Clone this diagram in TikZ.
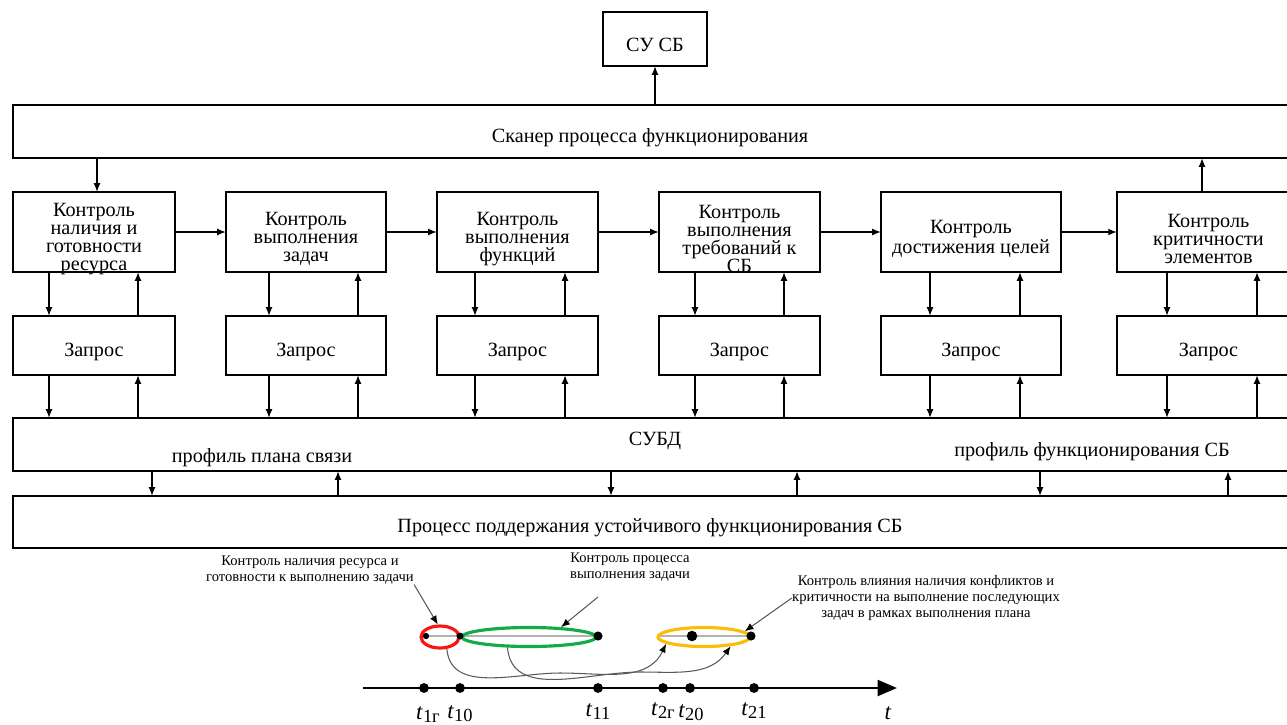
\documentclass[tikz,border=0pt]{standalone}
\usepackage{fontspec}
\setmainfont{Liberation Serif}
\usetikzlibrary{arrows.meta,positioning,calc,shapes.geometric}

\definecolor{resred}{RGB}{250,20,20}
\definecolor{taskgreen}{RGB}{20,170,70}
\definecolor{planyellow}{RGB}{250,190,10}

% time mark with an upright index
\newcommand\tsub[1]{\textit{t}\raisebox{-0.3ex}{\fontsize{10.5}{10.5}\selectfont#1}}

\tikzset{
  blk/.style={draw, line width=1.3pt, inner sep=0pt, outer sep=0pt},
  lbl/.style={align=center, inner sep=0pt, font=\fontsize{11.5}{10.3}\selectfont},
  arr/.style={line width=1pt, -{Latex[length=5pt,width=4pt]}},
  note/.style={align=center, inner sep=0pt, font=\fontsize{8.3}{9.2}\selectfont},
  callout/.style={black!65, line width=0.6pt, -{Latex[length=5pt,width=4pt,color=black]}},
  ring/.style={ellipse, draw, line width=1.8pt, inner sep=0pt},
  tmark/.style={anchor=base, inner sep=0pt, font=\fontsize{13}{13}\selectfont},
}

\begin{document}
\begin{tikzpicture}[x=0.02cm, y=-0.02cm]
\useasboundingbox (0,0) rectangle (1287,724);

\node[blk, minimum width=2.08cm, minimum height=1.08cm] (su) at (655,39) {};
\node[lbl] (sut) at (655,45) {СУ СБ};
\node[blk, minimum width=25.8cm, minimum height=1.06cm] (scan) at (658,131.5) {};
\node[lbl] (scant) at (650,138) {Сканер процесса функционирования};

% control units with their requests
\foreach \k/\xc/\w/\txt in {
    1/94/3.24/{Контроль\\наличия и\\готовности\\ресурса},
    2/306/3.2/{Контроль\\выполнения\\задач},
    3/517.5/3.22/{Контроль\\выполнения\\функций},
    4/739.5/3.22/{Контроль\\выполнения\\требований к\\СБ},
    5/971/3.6/{Контроль\\достижения целей},
    6/1208.5/3.66/{Контроль\\критичности\\элементов}}{
  \node[blk, minimum width=\w cm, minimum height=1.6cm] (k\k) at (\xc,232) {};
  \node[lbl] (kt\k) at (\xc,239) {\txt};
  \node[blk, minimum width=\w cm, minimum height=1.18cm] (q\k) at (\xc,345.5) {};
  \node[lbl] (qt\k) at (\xc,352) {Запрос};
}

\node[blk, minimum width=25.8cm, minimum height=1.06cm] (db) at (658,444.5) {};
\node[lbl] (dbt) at (655,441) {СУБД};
\node[lbl] (dbl) at (262,458) {профиль плана связи};
\node[lbl] (dbr) at (1092,452) {профиль функционирования СБ};
\node[blk, minimum width=25.8cm, minimum height=1.04cm] (proc) at (658,522) {};
\node[lbl] (proct) at (650,528) {Процесс поддержания устойчивого функционирования СБ};

\draw[arr] (scan.north -| su.south) -- (su.south);
\draw[arr] (97,0 |- scan.south) -- (97,0 |- k1.north);
\draw[arr] (1202,0 |- k6.north) -- (1202,0 |- scan.south);

\foreach \a/\b in {1/2,2/3,3/4,4/5,5/6}
  \draw[arr] (k\a.east) -- (k\b.west);

\foreach \k/\xd/\xu in {1/49/138, 2/269/358, 3/475/565, 4/695/784, 5/930/1020, 6/1167/1257}{
  \draw[arr] (\xd,0 |- k\k.south) -- (\xd,0 |- q\k.north);
  \draw[arr] (\xu,0 |- q\k.north) -- (\xu,0 |- k\k.south);
  \draw[arr] (\xd,0 |- q\k.south) -- (\xd,0 |- db.north);
  \draw[arr] (\xu,0 |- db.north) -- (\xu,0 |- q\k.south);
}

\foreach \xd/\xu in {152/338, 611/797, 1040/1228}{
  \draw[arr] (\xd,0 |- db.south) -- (\xd,0 |- proc.north);
  \draw[arr] (\xu,0 |- proc.north) -- (\xu,0 |- db.south);
}

% time axis
\coordinate (t0) at (363,688);
\coordinate (tend) at (897,688);
\draw[line width=1.5pt, -{Triangle[length=11pt,width=9pt]}] (t0) -- (tend);
\foreach \i/\x/\y/\s in {1/428/719/1г, 2/460/718/10, 3/598/716/11, 4/663/715/2г, 5/691/717/20, 6/754/715/21}{
  \node[tmark] (tl\i) at (\x,\y) {\tsub{\s}};
}
\foreach \x in {424,460,598,663,690,754}
  \fill (\x,688) circle[radius=2.8pt];
\node[tmark] (tl7) at (888,719) {\textit{t}};

% stages of the task
\draw[gray!60, line width=1.2pt] (424,636) -- (598,636) (660,636) -- (752,636);
\node[ring, draw=resred, minimum width=0.76cm, minimum height=0.44cm] (res) at (440,637) {};
\node[ring, draw=taskgreen, minimum width=2.68cm, minimum height=0.38cm] (grn) at (529,637) {};
\node[ring, draw=planyellow, minimum width=1.84cm, minimum height=0.38cm] (yel) at (704,637) {};
\foreach \x/\r in {426/1.8pt, 460/2pt, 598/2.6pt, 692/3pt, 751/2.6pt}
  \fill (\x,636) circle[radius=\r];

\coordinate (v1) at (560,673);
\coordinate (v2) at (640,672);
\draw[callout] (res.-60) to[out=-85,in=180] (v1) to[out=0,in=-115] (yel.-170);
\draw[callout] (grn.-154) to[out=-85,in=180] (v2) to[out=0,in=-125] (yel.-19);

\node[note] (n1) at (310,570) {Контроль наличия ресурса и\\готовности к выполнению задачи};
\node[note] (n2) at (630,567) {Контроль процесса\\выполнения задачи};
\node[note] (n3) at (926,598) {Контроль влияния наличия конфликтов и\\критичности на выполнение последующих\\задач в рамках выполнения плана};
\coordinate (a2) at (598,597);
\draw[callout] (n1.south east) -- (res.100);
\draw[callout] (a2) -- (grn.17);
\draw[callout] (n3.west) -- (yel.8);
\end{tikzpicture}
\end{document}
